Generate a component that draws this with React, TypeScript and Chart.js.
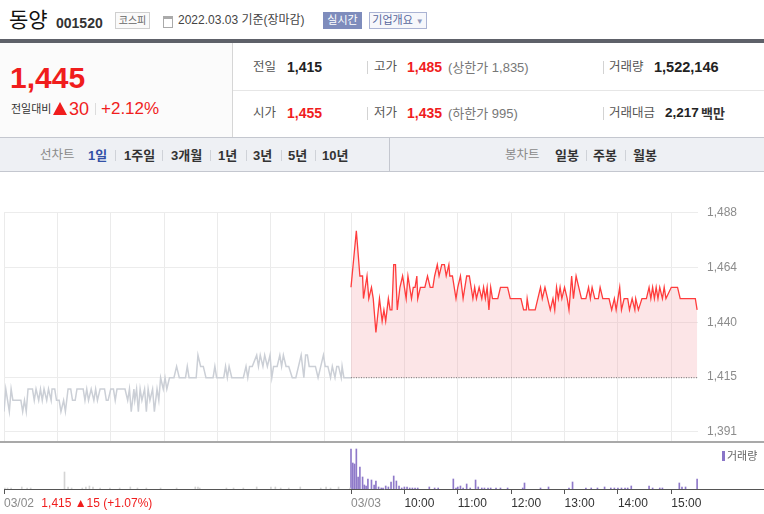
import { useEffect, useRef } from "react";
import { Chart, registerables } from "chart.js";

Chart.register(...registerables);

const FONT = "'Liberation Sans', Arial, 'Noto Sans CJK KR', sans-serif";
const RED = "#f01d1d";

// price axis
const prevClose = 1415;
const priceTicks = [1391, 1415.25, 1439.5, 1463.75, 1488];
const priceMin = 1387;
const priceMax = 1488;

// x is minutes from 09:00 on 03/02; 03/03 opens at minute 390
const dayOpen = 390;
const gridMinutes = [0, 60, 120, 180, 240, 300, 360, 390, 450, 510, 570, 630, 690, 750];
const axisMinutes = [0, 42, 390, 450, 510, 570, 630, 690, 750];
const axisLabels = ["03/02", "1,415 ▲15 (+1.07%)", "03/03", "10:00", "11:00", "12:00", "13:00", "14:00", "15:00"];
const axisColors = ["#8a8a8a", RED, "#8a8a8a", "#333", "#333", "#333", "#333", "#333", "#333"];

// [minute, price] on 03/02
const day1Prices = [
  [0, 1400], [2, 1410], [6, 1400], [8, 1410], [10, 1405], [19, 1405], [21, 1400], [23, 1405], [25, 1400], [27, 1410],
  [32, 1410], [34, 1405], [36, 1410], [39, 1405], [41, 1410], [43, 1405], [45, 1410], [48, 1405], [50, 1410], [53, 1405],
  [54, 1410], [57, 1410], [59, 1405], [62, 1405], [64, 1400], [67, 1405], [69, 1400], [72, 1410], [75, 1410], [77, 1405],
  [80, 1405], [82, 1410], [89, 1410], [91, 1405], [93, 1410], [95, 1405], [98, 1410], [101, 1405], [103, 1410], [105, 1405],
  [108, 1410], [113, 1410], [115, 1405], [117, 1405], [120, 1410], [123, 1410], [125, 1405], [127, 1410], [136, 1410], [139, 1405],
  [141, 1410], [143, 1400], [146, 1410], [147, 1405], [149, 1410], [151, 1400], [153, 1410], [155, 1405], [158, 1410], [160, 1400],
  [162, 1410], [164, 1405], [167, 1410], [169, 1400], [172, 1410], [174, 1405], [176, 1415], [179, 1410], [181, 1415], [183, 1410],
  [186, 1415], [191, 1415], [194, 1420], [197, 1415], [204, 1415], [206, 1420], [208, 1415], [216, 1415], [218, 1425], [221, 1420],
  [224, 1420], [227, 1415], [235, 1415], [237, 1420], [239, 1415], [247, 1415], [249, 1420], [251, 1415], [253, 1420], [256, 1415],
  [269, 1415], [272, 1420], [274, 1415], [276, 1420], [279, 1420], [284, 1425], [286, 1420], [288, 1425], [291, 1420], [293, 1425],
  [296, 1420], [299, 1425], [301, 1415], [303, 1420], [307, 1420], [310, 1425], [312, 1420], [314, 1425], [317, 1420], [320, 1420],
  [324, 1415], [328, 1415], [331, 1420], [334, 1425], [337, 1415], [339, 1425], [341, 1425], [343, 1420], [350, 1420], [353, 1415],
  [356, 1420], [359, 1425], [361, 1420], [364, 1420], [367, 1415], [369, 1420], [372, 1415], [374, 1420], [376, 1420], [379, 1415],
  [380, 1420], [382, 1415], [390, 1415],
];

// [minute after open, price] on 03/03
const day2Prices = [
  [0, 1455], [6, 1480], [10, 1460], [13, 1460], [14, 1450], [18, 1460], [20, 1450], [23, 1455], [25, 1450], [28, 1435],
  [32, 1450], [35, 1440], [37, 1445], [39, 1440], [42, 1450], [44, 1445], [46, 1445], [48, 1465], [50, 1465], [52, 1445],
  [55, 1455], [58, 1460], [62, 1450], [64, 1460], [68, 1450], [70, 1455], [72, 1455], [74, 1460], [75, 1450], [78, 1455],
  [83, 1455], [86, 1460], [89, 1455], [92, 1455], [94, 1460], [97, 1465], [99, 1460], [102, 1465], [105, 1465], [107, 1460],
  [110, 1465], [111, 1460], [114, 1460], [118, 1450], [120, 1455], [123, 1460], [126, 1450], [130, 1460], [133, 1460], [137, 1450],
  [139, 1455], [141, 1450], [144, 1455], [147, 1450], [149, 1455], [151, 1450], [153, 1455], [155, 1445], [157, 1455], [159, 1450],
  [165, 1450], [168, 1455], [176, 1455], [179, 1450], [191, 1450], [194, 1445], [197, 1445], [198, 1450], [200, 1445], [207, 1445],
  [210, 1450], [213, 1455], [215, 1450], [218, 1455], [221, 1450], [224, 1445], [227, 1450], [229, 1445], [231, 1455], [233, 1450],
  [235, 1455], [237, 1450], [240, 1455], [243, 1450], [245, 1445], [248, 1460], [250, 1450], [253, 1460], [256, 1455], [259, 1450],
  [264, 1450], [267, 1455], [269, 1450], [271, 1455], [274, 1450], [278, 1450], [280, 1455], [283, 1450], [290, 1450], [293, 1445],
  [296, 1450], [298, 1445], [302, 1455], [304, 1445], [307, 1450], [311, 1450], [313, 1445], [316, 1450], [319, 1445], [320, 1450],
  [323, 1445], [327, 1450], [332, 1450], [335, 1455], [337, 1450], [339, 1455], [341, 1450], [343, 1455], [345, 1450], [347, 1455],
  [350, 1450], [352, 1455], [354, 1450], [360, 1455], [367, 1455], [370, 1450], [387, 1450], [389, 1445],
];

// [minute, shares]
const day1Volumes = [
  [1, 2500], [4, 2500], [8, 2500], [20, 5000], [26, 2500], [30, 2500], [68, 42500], [72, 5000], [76, 2500], [88, 2500],
  [92, 5000], [96, 7500], [100, 5000], [108, 2500], [119, 2500], [130, 2500], [142, 5000], [150, 2500], [160, 2500], [176, 2500],
  [194, 2500], [215, 5000], [218, 5000], [220, 2500], [250, 2500], [258, 2500], [269, 2500], [284, 5000], [300, 5000], [305, 5000],
  [311, 2500], [320, 2500], [333, 5000], [356, 2500], [362, 5000], [367, 2500], [376, 5000], [389, 2500],
];

// [minute after open, shares]
const day2Volumes = [
  [0, 100000], [2, 65000], [4, 62500], [6, 100000], [8, 30000], [10, 55000], [13, 30000], [15, 10000], [17, 7500], [19, 25000],
  [23, 22500], [26, 10000], [28, 20000], [31, 5000], [34, 2500], [36, 2500], [39, 7500], [42, 5000], [45, 17500], [48, 32500],
  [51, 20000], [54, 7500], [57, 2500], [60, 5000], [63, 5000], [66, 2500], [69, 2500], [72, 2500], [75, 2500], [88, 5000],
  [94, 2500], [98, 2500], [115, 25000], [118, 2500], [120, 5000], [123, 7500], [126, 2500], [130, 12500], [134, 2500], [140, 22500],
  [143, 5000], [147, 2500], [150, 2500], [154, 2500], [157, 2500], [163, 2500], [168, 2500], [176, 2500], [193, 2500], [195, 15000],
  [213, 2500], [222, 5000], [245, 2500], [249, 17500], [264, 2500], [270, 2500], [277, 2500], [285, 5000], [292, 2500], [296, 2500],
  [300, 2500], [304, 2500], [308, 2500], [311, 2500], [315, 7500], [335, 7500], [339, 2500], [347, 2500], [350, 2500], [369, 15000],
  [372, 5000], [376, 5000], [389, 25000],
];

function Txt(props: { x: number; cy: number; size: number; color?: string; bold?: boolean; children: any }) {
  const { x, cy, size, color = "#333", bold = false, children } = props;
  return (
    <span
      style={{
        position: "absolute",
        left: x,
        top: cy - size * 0.5,
        fontSize: size,
        lineHeight: `${size}px`,
        color,
        fontWeight: bold ? 700 : 400,
        whiteSpace: "nowrap",
      }}
    >
      {children}
    </span>
  );
}

function Bar(props: { x: number; cy: number; h?: number; color?: string }) {
  const { x, cy, h = 12, color = "#d3d3d3" } = props;
  return <div style={{ position: "absolute", left: x, top: cy - h / 2, width: 1, height: h, background: color }} />;
}

function Header() {
  return (
    <>
      <Txt x={9} cy={19} size={21} color="#111">동양</Txt>
      <Txt x={56} cy={23} size={14} color="#333" bold>001520</Txt>
      <div
        style={{
          position: "absolute", left: 115, top: 12, width: 33, height: 15, border: "1px solid #cfcfcf",
          background: "#fafafa", fontSize: 10, lineHeight: "15px", textAlign: "center", color: "#666",
        }}
      >
        코스피
      </div>
      <div style={{ position: "absolute", left: 163, top: 16, width: 8, height: 8, border: "1px solid #aaa", borderTopWidth: 3 }} />
      <Txt x={178} cy={20} size={12} color="#444">2022.03.03 기준(장마감)</Txt>
      <div
        style={{
          position: "absolute", left: 323, top: 12, width: 39, height: 17, background: "#7e8cbc",
          color: "#fff", fontSize: 11, lineHeight: "17px", textAlign: "center",
        }}
      >
        실시간
      </div>
      <div
        style={{
          position: "absolute", left: 369, top: 12, width: 56, height: 15, border: "1px solid #aab3d3",
          background: "#f6f7fb", color: "#58679d", fontSize: 11, lineHeight: "15px", textAlign: "center",
        }}
      >
        기업개요 <span style={{ fontSize: 8, color: "#8f99bd" }}>▼</span>
      </div>
      <div style={{ position: "absolute", left: 0, top: 39, width: 764, height: 4, background: "#5e6169" }} />
    </>
  );
}

function InfoTable() {
  return (
    <>
      <div style={{ position: "absolute", left: 0, top: 43, width: 232, height: 94, background: "#fbfbfb", borderRight: "1px solid #d6d6d6" }} />
      <Txt x={10} cy={77.5} size={30} color={RED} bold>1,445</Txt>
      <Txt x={11} cy={109} size={11} color="#333">전일대비</Txt>
      <div
        style={{
          position: "absolute", left: 53, top: 102, width: 0, height: 0,
          borderLeft: "7.5px solid transparent", borderRight: "7.5px solid transparent", borderBottom: `13px solid ${RED}`,
        }}
      />
      <Txt x={69} cy={108.5} size={18} color={RED}>30</Txt>
      <Bar x={95} cy={108.5} h={12} color="#dcdcdc" />
      <Txt x={101} cy={108.5} size={17} color={RED}>+2.12%</Txt>

      <div style={{ position: "absolute", left: 233, top: 90, width: 531, height: 1, background: "#e6e6e6" }} />

      <Txt x={253} cy={67} size={12.5} color="#555">전일</Txt>
      <Txt x={287} cy={67} size={14} color="#222" bold>1,415</Txt>
      <Bar x={367} cy={67} h={13} />
      <Txt x={374} cy={67} size={12.5} color="#555">고가</Txt>
      <Txt x={407} cy={67} size={14} color={RED} bold>1,485</Txt>
      <Txt x={448} cy={67} size={13} color="#777">(상한가 1,835)</Txt>
      <Bar x={603} cy={67} h={13} />
      <Txt x={609} cy={67} size={12.5} color="#555">거래량</Txt>
      <Txt x={654} cy={67} size={14.5} color="#222" bold>1,522,146</Txt>

      <Txt x={253} cy={113} size={12.5} color="#555">시가</Txt>
      <Txt x={287} cy={113} size={14} color={RED} bold>1,455</Txt>
      <Bar x={367} cy={113} h={13} />
      <Txt x={374} cy={113} size={12.5} color="#555">저가</Txt>
      <Txt x={407} cy={113} size={14} color={RED} bold>1,435</Txt>
      <Txt x={448} cy={113} size={13} color="#777">(하한가 995)</Txt>
      <Bar x={603} cy={113} h={13} />
      <Txt x={609} cy={113} size={12.5} color="#555">거래대금</Txt>
      <Txt x={665} cy={113} size={13.5} color="#222" bold>2,217</Txt>
      <Txt x={701} cy={113} size={13} color="#333" bold>백만</Txt>
    </>
  );
}

function TabBar() {
  const cy = 155;
  return (
    <>
      <div
        style={{
          position: "absolute", left: 0, top: 137, width: 764, height: 33, background: "#eef0f4",
          borderTop: "1px solid #c4c7cf", borderBottom: "1px solid #c4c7cf",
        }}
      />
      <div style={{ position: "absolute", left: 389, top: 138, width: 1, height: 33, background: "#c4c7cf" }} />
      <Txt x={40} cy={cy} size={12.5} color="#8a8a8a">선차트</Txt>
      <Txt x={88} cy={cy} size={13} color="#3351a6" bold>1일</Txt>
      <Bar x={115} cy={cy} h={11} color="#cfd2d8" />
      <Txt x={124} cy={cy} size={13} color="#333" bold>1주일</Txt>
      <Bar x={162} cy={cy} h={11} color="#cfd2d8" />
      <Txt x={171} cy={cy} size={13} color="#333" bold>3개월</Txt>
      <Bar x={210} cy={cy} h={11} color="#cfd2d8" />
      <Txt x={218} cy={cy} size={13} color="#333" bold>1년</Txt>
      <Bar x={246} cy={cy} h={11} color="#cfd2d8" />
      <Txt x={253} cy={cy} size={13} color="#333" bold>3년</Txt>
      <Bar x={281} cy={cy} h={11} color="#cfd2d8" />
      <Txt x={288} cy={cy} size={13} color="#333" bold>5년</Txt>
      <Bar x={315} cy={cy} h={11} color="#cfd2d8" />
      <Txt x={322} cy={cy} size={13} color="#333" bold>10년</Txt>

      <Txt x={505} cy={cy} size={12.5} color="#8a8a8a">봉차트</Txt>
      <Txt x={555} cy={cy} size={13} color="#333" bold>일봉</Txt>
      <Bar x={586} cy={cy} h={11} color="#cfd2d8" />
      <Txt x={593} cy={cy} size={13} color="#333" bold>주봉</Txt>
      <Bar x={625} cy={cy} h={11} color="#cfd2d8" />
      <Txt x={633} cy={cy} size={13} color="#333" bold>월봉</Txt>
    </>
  );
}

function PriceChart() {
  const chartRef = useRef<HTMLCanvasElement | null>(null);

  useEffect(() => {
    if (!chartRef.current) return;
    const chart = new Chart(chartRef.current, {
      type: "line",
      data: {
        datasets: [
          {
            data: day1Prices.map(([m, p]) => ({ x: m, y: p })),
            borderColor: "#cbcfd6",
            borderWidth: 1.5,
            pointRadius: 0,
            fill: false,
            order: 2,
          },
          {
            data: day2Prices.map(([m, p]) => ({ x: dayOpen + m, y: p })),
            borderColor: "#ff3c3c",
            borderWidth: 1.3,
            pointRadius: 0,
            fill: { value: prevClose },
            backgroundColor: "rgba(245, 150, 160, 0.25)",
            order: 1,
          },
          {
            data: [
              { x: dayOpen, y: prevClose },
              { x: dayOpen * 2, y: prevClose },
            ],
            borderColor: "#777",
            borderWidth: 1,
            borderDash: [1, 1.5],
            pointRadius: 0,
            fill: false,
            order: 0,
          },
        ],
      },
      options: {
        animation: false,
        responsive: true,
        maintainAspectRatio: false,
        layout: { padding: { left: 4, top: 12.7, right: 0, bottom: 0 } },
        plugins: { legend: { display: false }, tooltip: { enabled: false } },
        scales: {
          x: {
            type: "linear",
            min: 0,
            max: dayOpen * 2,
            afterBuildTicks: (axis: any) => {
              axis.ticks = gridMinutes.map((v) => ({ value: v }));
            },
            afterFit: (axis: any) => {
              axis.height = 0;
              axis.paddingLeft = 0;
              axis.paddingRight = 0;
            },
            ticks: { display: false },
            grid: { color: "#ebebeb", drawTicks: false },
            border: { display: false },
          },
          y: {
            position: "right",
            min: priceMin,
            max: priceMax,
            afterBuildTicks: (axis: any) => {
              axis.ticks = priceTicks.map((v) => ({ value: v }));
            },
            afterFit: (axis: any) => {
              axis.width = 66;
              axis.paddingTop = 0;
              axis.paddingBottom = 0;
            },
            ticks: {
              padding: 9,
              color: "#8c8c8c",
              font: { family: FONT, size: 12 },
              callback: (v: any) => Math.round(Number(v)).toLocaleString("en-US"),
            },
            grid: { color: "#ececec", drawTicks: false },
            border: { display: false },
          },
        },
      },
    } as any);
    return () => chart.destroy();
  }, []);

  return (
    <div style={{ position: "absolute", left: 0, top: 200, width: 764, height: 241 }}>
      <canvas ref={chartRef} />
    </div>
  );
}

function VolumeChart() {
  const chartRef = useRef<HTMLCanvasElement | null>(null);

  useEffect(() => {
    if (!chartRef.current) return;
    const chart = new Chart(chartRef.current, {
      type: "bar",
      data: {
        datasets: [
          {
            data: day1Volumes.map(([m, v]) => ({ x: m, y: v })),
            backgroundColor: "#d4d4d4",
            barThickness: 1,
            grouped: false,
          },
          {
            data: day2Volumes.map(([m, v]) => ({ x: dayOpen + m, y: v })),
            backgroundColor: "rgba(122, 98, 192, 0.85)",
            barThickness: 1,
            grouped: false,
          },
        ],
      },
      options: {
        animation: false,
        responsive: true,
        maintainAspectRatio: false,
        layout: { padding: { left: 4, top: 0, right: 0, bottom: 0 } },
        plugins: { legend: { display: false }, tooltip: { enabled: false } },
        scales: {
          x: {
            type: "linear",
            min: 0,
            max: (dayOpen * 2 * 760) / 694,
            offset: false,
            afterBuildTicks: (axis: any) => {
              axis.ticks = axisMinutes.map((v) => ({ value: v }));
            },
            afterFit: (axis: any) => {
              axis.height = 25;
            },
            ticks: {
              autoSkip: false,
              maxRotation: 0,
              align: "start",
              padding: 2,
              font: { family: FONT, size: 12 },
              color: (ctx: any) => axisColors[ctx.index] || "#333",
              callback: (_v: any, i: number) => axisLabels[i],
            },
            grid: {
              offset: false,
              drawOnChartArea: false,
              drawTicks: true,
              tickLength: 5,
              tickColor: (ctx: any) => (ctx.index === 1 ? "rgba(0,0,0,0)" : "#555"),
            },
            border: { color: "#555" },
          },
          y: { display: false, min: 0, max: 115000 },
        },
      },
    } as any);
    return () => chart.destroy();
  }, []);

  return (
    <div style={{ position: "absolute", left: 0, top: 443, width: 764, height: 71 }}>
      <canvas ref={chartRef} />
    </div>
  );
}

export default function App() {
  return (
    <div
      style={{
        position: "absolute", left: 0, top: 0, width: 764, height: 514, background: "#fff",
        fontFamily: FONT, overflow: "hidden",
      }}
    >
      <Header />
      <InfoTable />
      <TabBar />
      <PriceChart />
      <div style={{ position: "absolute", left: 0, top: 441, width: 764, height: 2, background: "#a9a9a9" }} />
      <VolumeChart />
      <div style={{ position: "absolute", left: 722, top: 451, width: 3, height: 10, background: "#8a76c8" }} />
      <Txt x={727} cy={456} size={11} color="#666">거래량</Txt>
    </div>
  );
}
